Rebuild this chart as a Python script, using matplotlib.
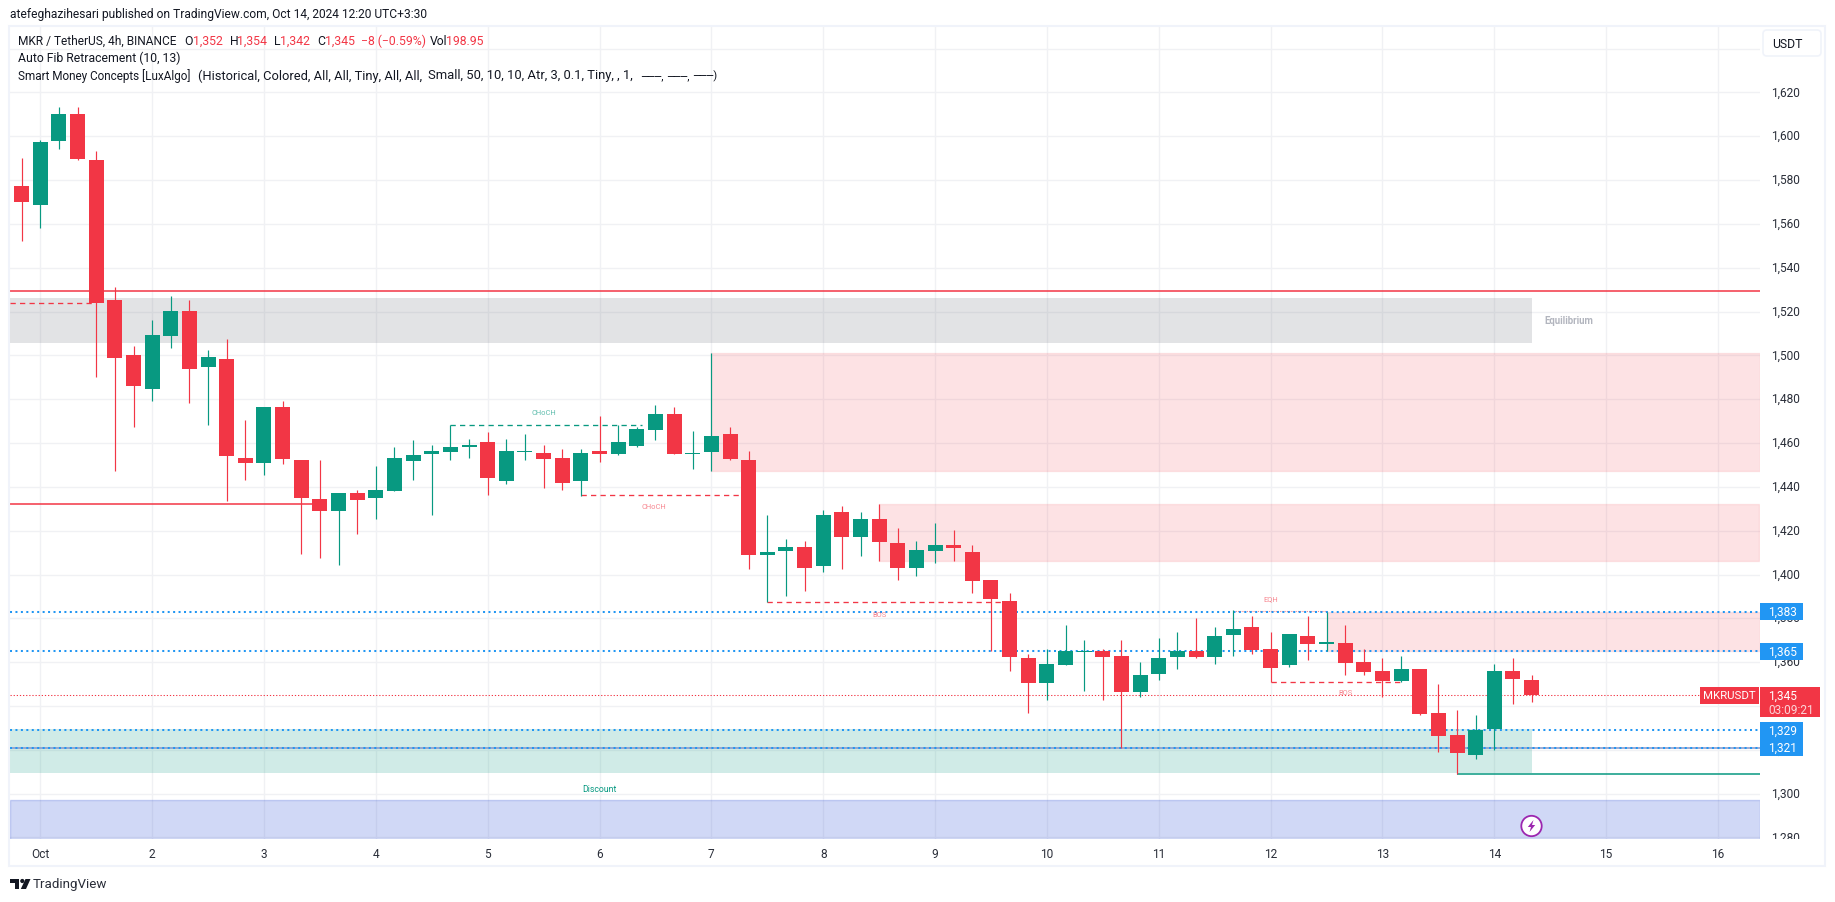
#MKR / USDT 4h candles with Smart Money Concepts zones, TradingView style
import matplotlib
matplotlib.use("Agg")
from matplotlib import pyplot as plt
from matplotlib.patches import Rectangle, Circle, Polygon, FancyBboxPatch
from matplotlib.transforms import Bbox, ScaledTranslation

plt.rcParams['font.family'] = ['Roboto', 'DejaVu Sans']

#############################################
#Candle data
opens = [1577.3, 1568.8, 1598.0, 1610.1, 1589.1, 1525.2, 1500.1, 1484.7, 1508.8, 1520.2,
         1494.6, 1498.3, 1453.1, 1450.9, 1476.4, 1452.2, 1434.4, 1429.0, 1437.2, 1434.9,
         1438.1, 1451.8, 1454.9, 1455.9, 1458.4, 1460.4, 1442.6, 1455.9, 1455.4, 1453.1,
         1442.6, 1456.3, 1455.0, 1458.7, 1466.0, 1473.3, 1455.0, 1455.9, 1464.1, 1452.3,
         1409.0, 1410.8, 1412.6, 1404.0, 1428.6, 1417.2, 1425.4, 1414.4, 1403.0, 1410.8,
         1413.5, 1410.3, 1397.6, 1387.9, 1361.9, 1350.5, 1358.7, 1364.7, 1365.1, 1362.8,
         1346.4, 1354.6, 1362.4, 1365.1, 1362.4, 1372.5, 1376.1, 1366.1, 1358.8, 1372.0,
         1368.4, 1368.8, 1360.2, 1356.0, 1351.5, 1357.0, 1336.9, 1326.9, 1317.8, 1329.6,
         1356.0, 1352.0]
highs = [1590.0, 1598.1, 1613.3, 1613.3, 1593.3, 1531.1, 1504.2, 1516.0, 1527.0, 1525.2,
         1502.4, 1507.4, 1470.5, 1476.4, 1479.1, 1452.2, 1452.2, 1437.2, 1438.5, 1449.5,
         1458.1, 1461.3, 1459.0, 1468.2, 1461.9, 1465.1, 1461.9, 1464.0, 1459.0, 1457.2,
         1457.2, 1472.3, 1468.1, 1467.2, 1477.4, 1476.4, 1465.5, 1501.0, 1467.3, 1456.4,
         1427.2, 1416.3, 1415.3, 1429.5, 1431.3, 1428.6, 1432.2, 1421.3, 1415.3, 1423.6,
         1420.4, 1413.5, 1397.6, 1391.6, 1363.7, 1366.0, 1377.0, 1370.1, 1366.0, 1370.1,
         1360.1, 1371.0, 1373.8, 1380.2, 1376.1, 1383.9, 1381.1, 1373.8, 1372.9, 1381.1,
         1383.0, 1377.0, 1366.1, 1362.0, 1362.9, 1357.0, 1350.1, 1338.3, 1336.0, 1359.2,
         1362.0, 1354.2]
lows = [1552.4, 1558.1, 1594.2, 1589.1, 1490.2, 1447.4, 1467.4, 1479.3, 1503.3, 1478.4,
        1468.3, 1433.5, 1443.1, 1445.4, 1450.4, 1409.4, 1407.5, 1404.3, 1418.5, 1425.3,
        1438.1, 1443.1, 1427.1, 1452.2, 1453.1, 1436.3, 1441.3, 1452.2, 1439.5, 1438.5,
        1436.0, 1451.3, 1454.5, 1458.2, 1461.4, 1455.0, 1448.2, 1447.3, 1452.3, 1402.6,
        1387.4, 1390.3, 1392.6, 1401.2, 1402.6, 1408.5, 1406.2, 1397.6, 1399.4, 1405.3,
        1406.2, 1391.6, 1365.1, 1356.0, 1336.8, 1342.8, 1358.7, 1346.9, 1342.8, 1320.9,
        1344.1, 1351.9, 1356.9, 1361.9, 1359.2, 1362.9, 1363.8, 1350.9, 1357.9, 1361.1,
        1365.2, 1354.2, 1354.2, 1344.2, 1351.0, 1336.0, 1319.1, 1308.9, 1315.9, 1320.0,
        1341.0, 1341.9]
closes = [1570.2, 1597.4, 1610.1, 1589.6, 1524.0, 1498.7, 1486.0, 1509.2, 1520.2, 1493.7,
          1499.2, 1454.0, 1450.9, 1476.4, 1452.7, 1434.9, 1429.0, 1437.2, 1434.0, 1438.5,
          1453.1, 1454.5, 1456.3, 1458.1, 1459.0, 1444.0, 1456.3, 1456.5, 1452.7, 1441.7,
          1455.4, 1454.9, 1460.5, 1466.4, 1473.3, 1455.0, 1455.6, 1463.2, 1452.7, 1409.0,
          1410.3, 1412.6, 1403.0, 1427.2, 1417.2, 1425.4, 1414.9, 1403.0, 1411.2, 1413.5,
          1412.2, 1397.1, 1388.9, 1362.4, 1350.5, 1359.2, 1365.1, 1365.3, 1362.4, 1346.4,
          1354.2, 1361.9, 1365.1, 1362.4, 1372.0, 1375.2, 1365.6, 1357.4, 1372.9, 1368.4,
          1369.0, 1359.7, 1355.6, 1351.5, 1357.0, 1336.4, 1326.4, 1318.7, 1329.1, 1356.0,
          1352.4, 1345.0]

#Axis ticks
price_ticks = [1280, 1300, 1320, 1340, 1360, 1380, 1400, 1420, 1440, 1460, 1480,
               1500, 1520, 1540, 1560, 1580, 1600, 1620, 1640]
day_ticks = [1, 7, 13, 19, 25, 31, 37, 43, 49, 55, 61, 67, 73, 79, 85, 91]
day_labels = ['Oct', '2', '3', '4', '5', '6', '7', '8', '9', '10', '11', '12', '13', '14', '15', '16']

#Zones (bottom, top, first candle, last candle), None runs to the axis edge
pink_zones = [(1447.4, 1501.0, 37, None), (1406.2, 1432.2, 46, None), (1365.2, 1383.0, 70, None)]
gray_zone = (1505.7, 1526.0, None, 81)
green_zone = (1309.2, 1329.7, None, 81)
blue_zone = (1279.0, 1297.2, None, None)

#Levels
alert_levels = [1383, 1365, 1329, 1321]
last_price = 1345
red_solid = [(1529.3, None, None), (1432.0, None, 15.7)]
green_solid = [(1309.0, 77, None)]
red_dashed = [(1524.0, None, 4), (1436.1, 30, 38.5), (1387.4, 40, 53), (1351.0, 67, 74)]
green_dashed = [(1468.1, 23, 33.3)]
eqh_level = (1383.4, 65, 70)

#Small labels on the chart (text, candle, price)
green_text = [('CHoCH', 28, 1474.0), ('Discount', 31, 1302.3)]
red_text = [('CHoCH', 33.9, 1431.0), ('BOS', 46, 1381.8), ('EQH', 67, 1389.0), ('BOS', 71, 1346.0)]

#############################################
#Colours
UP = '#089981'
DOWN = '#F23645'
BLUE = '#2196F3'
GRID = '#F0F1F4'
FRAME = '#F0F3FA'
TEXT = '#131722'

W, H = 1835, 903
LEFT, RIGHT, TOP, BOTTOM = 9.5, 1759.5, 27, 840

fig = plt.figure(figsize=(W/100, H/100), dpi=100, facecolor='white')
ax = fig.add_axes([LEFT/W, 1 - BOTTOM/H, (RIGHT - LEFT)/W, (BOTTOM - TOP)/H])

#candle spacing comes out at 18.64 px, first candle at 21.66 px
xmin = (LEFT - 21.66)/18.641
xmax = (RIGHT - 21.66)/18.641
ymin = 1279.3
ymax = 1650.3
ax.set_xlim(xmin, xmax)
ax.set_ylim(ymin, ymax)

for s in ax.spines.values():
    s.set_visible(False)

ax.set_axisbelow(True)
ax.grid(True, color=GRID, lw=1.0)
ax.set_xticks(day_ticks)
ax.set_xticklabels(day_labels)
ax.yaxis.tick_right()
ax.set_yticks(price_ticks)
ax.set_yticklabels([f'{p:,}' if p != 1640 else '' for p in price_ticks])
ax.tick_params(axis='both', length=0, labelsize=8.6, labelcolor='#2A2E39')
ax.tick_params(axis='x', pad=6)
ax.tick_params(axis='y', pad=8)

#price labels sit a little above their grid lines, the lowest is cut by the axis bottom
up_shift = ScaledTranslation(0, 1.5/72, fig.dpi_scale_trans)
for lbl in ax.get_yticklabels():
    lbl.set_transform(lbl.get_transform() + up_shift)
    lbl.set_clip_on(True)
    lbl.set_clip_box(Bbox([[1700, H - BOTTOM], [W, H]]))


def span(first, last):
    a = xmin if first is None else first
    b = xmax if last is None else last
    return a, b


def zone(z, colour, alpha, edge_alpha=0.0):
    a, b = span(z[2], z[3])
    rgb = matplotlib.colors.to_rgb(colour)
    ax.add_patch(Rectangle((a, z[0]), b - a, z[1] - z[0], facecolor=rgb + (alpha,),
                           edgecolor=rgb + (edge_alpha,), lw=1.0, zorder=1))


#############################################
#Zones
for z in pink_zones:
    zone(z, DOWN, 0.14, 0.10)
zone(gray_zone, '#787B86', 0.21)
zone(green_zone, UP, 0.19)
zone(blue_zone, '#3A5BD9', 0.235, 0.25)

#Levels
for lev, a, b in red_solid:
    a, b = span(a, b)
    ax.hlines(lev, a, b, color=DOWN, lw=1.1, zorder=2)
for lev, a, b in green_solid:
    a, b = span(a, b)
    ax.hlines(lev, a, b, color=UP, lw=1.1, zorder=2)
for lev, a, b in red_dashed:
    a, b = span(a, b)
    ax.hlines(lev, a, b, color=DOWN, lw=0.95, linestyles=[(0, (4, 3.2))], zorder=2)
for lev, a, b in green_dashed:
    a, b = span(a, b)
    ax.hlines(lev, a, b, color=UP, lw=0.95, linestyles=[(0, (4, 3.2))], zorder=2)
ax.hlines(eqh_level[0], eqh_level[1], eqh_level[2], color=DOWN, lw=0.8, alpha=0.6,
          linestyles=[(0, (1, 1))], zorder=2)

#the 1,321 level sits on a solid line
ax.hlines(alert_levels[3], xmin, xmax, color='#8794C6', lw=1.1, zorder=2)
for lev in alert_levels:
    ax.hlines(lev, xmin, xmax, color=BLUE, lw=1.45, linestyles=[(0, (1, 1.7))], zorder=2.2)
ax.hlines(last_price, xmin, xmax, color=DOWN, lw=0.75, linestyles=[(0, (1.2, 1.8))], zorder=2.2)

#Candles
idx = list(range(len(opens)))
cols = [UP if c >= o else DOWN for o, c in zip(opens, closes)]
bottoms = [min(o, c) for o, c in zip(opens, closes)]
heights = [abs(c - o) for o, c in zip(opens, closes)]
ax.vlines(idx, lows, highs, colors=cols, lw=0.85, zorder=3)
ax.bar(idx, heights, width=0.805, bottom=bottoms, color=cols, linewidth=0, zorder=3.1)

#Labels on the chart
for t, x, y in green_text:
    size = 6.3 if t == 'Discount' else 5.4
    alpha = 1.0 if t == 'Discount' else 0.65
    ax.text(x, y, t, color=UP, fontsize=size, alpha=alpha, ha='center', va='center', zorder=4)
for t, x, y in red_text:
    ax.text(x, y, t, color=DOWN, fontsize=5.4, alpha=0.6, ha='center', va='center', zorder=4)
ax.text(83, 1516, 'Equilibrium', color='#B2B5BE', fontsize=6.9, fontweight='bold',
        ha='center', va='center', zorder=4)

#############################################
#Overlay in pixels for the page furniture
ov = fig.add_axes([0, 0, 1, 1])
ov.set_xlim(0, W)
ov.set_ylim(H, 0)
ov.axis('off')

ov.add_patch(Rectangle((8.5, 26.5), 1816, 841, fill=False, edgecolor=FRAME, lw=1.5))

#header
ov.text(10, 14.7, 'atefeghazihesari published on TradingView.com, Oct 14, 2024 12:20 UTC+3:30',
        fontsize=8.66, color=TEXT, va='center')
y1 = 41.7
ov.text(18, y1, 'MKR / TetherUS, 4h, BINANCE', fontsize=8.6, color=TEXT, va='center')
for t, x, c in [('O', 184.6, TEXT), ('1,352', 193, DOWN), ('H', 230, TEXT), ('1,354', 237, DOWN),
                ('L', 274, TEXT), ('1,342', 280, DOWN), ('C', 317, TEXT), ('1,345', 325, DOWN),
                ('\u22128 (\u22120.59%)', 361, DOWN), ('Vol', 430, TEXT), ('198.95', 446, DOWN)]:
    ov.text(x, y1, t, fontsize=8.8, color=c, va='center')
ov.text(18, 58.7, 'Auto Fib Retracement (10, 13)', fontsize=8.8, color=TEXT, va='center')

#third legend line goes in pieces, its spacing is wider than this font gives
y3 = 76
ov.text(18, y3, 'Smart Money Concepts [LuxAlgo]', fontsize=8.5, color=TEXT, va='center')
ov.text(198, y3, '(Historical, Colored, All, All, Tiny, All, All,', fontsize=9.3, color=TEXT, va='center')
ov.text(428, y3, 'Small, 50, 10, 10, Atr, 3, 0.1, Tiny, , 1,', fontsize=9.35, color=TEXT, va='center')
dash = '\u2500\u2500\u2500'
ov.text(641, y3, dash + ',', fontsize=8, color=TEXT, va='center')
ov.text(667, y3, dash + ',', fontsize=8, color=TEXT, va='center')
ov.text(693, y3, dash + ')', fontsize=8, color=TEXT, va='center')

#USDT button
ov.add_patch(FancyBboxPatch((1765, 33), 54, 22, boxstyle='round,pad=2,rounding_size=4',
                            facecolor='white', edgecolor=FRAME, lw=1.2))
ov.text(1772, 44.5, 'USDT', fontsize=8.8, color=TEXT, va='center')


def price_y(v):
    return BOTTOM - (v - ymin)/(ymax - ymin)*(BOTTOM - TOP)


#price labels
for lev in alert_levels:
    py = price_y(lev)
    ov.add_patch(Rectangle((1760, py - 8.5), 43, 17, facecolor=BLUE, edgecolor='none'))
    ov.text(1768, py, f'{lev:,}', fontsize=8.6, color='white', va='center')
py = price_y(last_price)
ov.add_patch(Rectangle((1700, py - 8.3), 59, 17, facecolor=DOWN, edgecolor='none'))
ov.text(1729.5, py + 0.2, 'MKRUSDT', fontsize=8.2, color='white', ha='center', va='center')
ov.add_patch(Rectangle((1760, py - 8.3), 60, 30.5, facecolor=DOWN, edgecolor='none'))
ov.text(1768, py, f'{last_price:,}', fontsize=8.6, color='white', va='center')
ov.text(1768, py + 14, '03:09:21', fontsize=8.6, color='#FBD5D8', va='center')

#lightning badge
ov.add_patch(Circle((1531.5, 827), 10.2, facecolor='white', edgecolor='#9C27B0', lw=1.3))
ov.add_patch(Polygon([(1533.5, 821), (1527.8, 828), (1531, 828), (1529.5, 833),
                      (1535.2, 826), (1532, 826)], closed=True, facecolor='#9C27B0', edgecolor='none'))

#TradingView logo
ov.add_patch(Polygon([(10, 880), (19, 880), (19, 890), (14.5, 890), (14.5, 884), (10, 884)],
                     closed=True, facecolor=TEXT, edgecolor='none'))
ov.add_patch(Circle((22.3, 882), 2.1, facecolor=TEXT, edgecolor='none'))
ov.add_patch(Polygon([(25.5, 880), (30.5, 880), (26, 890), (20.8, 890)], closed=True,
                     facecolor=TEXT, edgecolor='none'))
ov.text(33, 885, 'TradingView', fontsize=9.6, color='#2A2E39', va='center')

fig.savefig('out.png', dpi=100)
